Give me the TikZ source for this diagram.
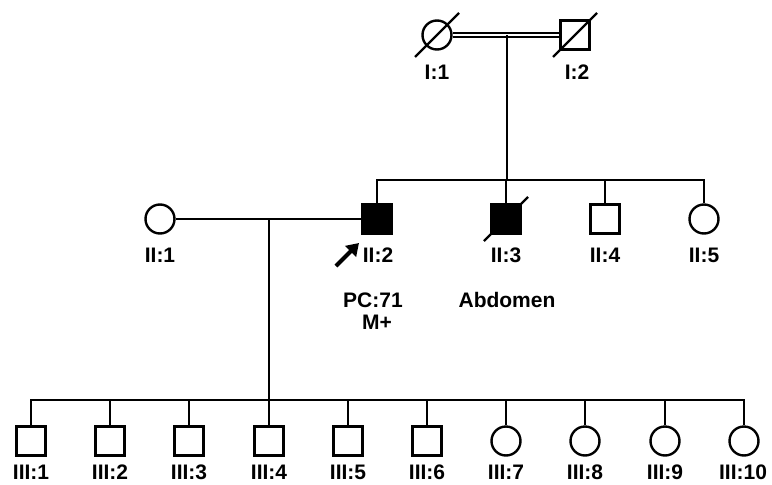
\documentclass[tikz,border=0pt]{standalone}
\usepackage{fontspec}
\setmainfont{Liberation Sans}
\usetikzlibrary{arrows.meta}

\begin{document}
\begin{tikzpicture}[%
		x=1pt,y=-1pt,
		line width=2.4pt,
		male/.style={draw,rectangle,minimum size=29pt,inner sep=0pt},%
		female/.style={draw,circle,minimum size=29pt,inner sep=0pt},%
		affected/.style={fill=black},%
		dead/.style={line width=2.4pt},%
		marriage/.style={double,line width=2pt,double distance=2pt},%
		lbl/.style={font=\fontsize{21}{25}\selectfont\bfseries,inner sep=0pt},%
		proband/.style={line width=4pt,-{Triangle[length=12pt,width=15pt]}}
		]
		\useasboundingbox (0,0) rectangle (772,485);

		% generation I
		\node[female] (i1) at (437,35) {};
		\node[male] (i2) at (575,35) {};
		\draw[dead] (i1.center) ++(-22,22) -- ++(44,-44);
		\draw[dead] (i2.center) ++(-22,22) -- ++(44,-44);
		\draw[marriage] (i1) -- (i2);
		\node[lbl] (i1l) at (437,72) {I:1};
		\node[lbl] (i2l) at (577,72) {I:2};
		\coordinate (m1) at (507,35);
		\coordinate (sib2) at (507,180);
		\draw (m1) -- (sib2);

		% generation II
		\node[female] (ii1) at (160,219) {};
		\node[male,affected] (ii2) at (377,219) {};
		\node[male,affected] (ii3) at (506,219) {};
		\node[male] (ii4) at (605,219) {};
		\node[female] (ii5) at (704,219) {};
		\draw[dead] (ii3.center) ++(-22,22) -- ++(44,-44);
		\draw (ii2.north) |- (sib2) -| (ii5.north);
		\foreach \n in {ii3,ii4}
			\draw (\n.north) -- (\n.north |- sib2);
		\draw (ii1) -- (ii2);
		\node[lbl] (ii1l) at (160,255) {II:1};
		\node[lbl] (ii2l) at (378,255) {II:2};
		\node[lbl] (ii3l) at (506,255) {II:3};
		\node[lbl] (ii4l) at (605,255) {II:4};
		\node[lbl] (ii5l) at (704,255) {II:5};
		% proband arrow
		\coordinate (pa) at (336,266);
		\coordinate (pb) at (359,243);
		\draw[proband] (pa) -- (pb);
		% notes
		\node[lbl] (pc) at (373,300) {PC:71};
		\node[lbl] (mplus) at (377,322) {M+};
		\node[lbl] (abd) at (507,300) {Abdomen};

		% generation III
		\coordinate (m2) at (269,219);
		\coordinate (sib3) at (269,400);
		\draw (m2) -- (sib3);
		\foreach \i/\x in {1/31,2/110,3/189,4/269,5/348,6/427}
			\node[male] (iii\i) at (\x,441) {};
		\foreach \i/\x in {7/506,8/585,9/665,10/744}
			\node[female] (iii\i) at (\x,441) {};
		\draw (iii1.north) |- (sib3) -| (iii10.north);
		\foreach \i in {2,...,9}
			\draw (iii\i.north) -- (iii\i.north |- sib3);
		\foreach \i/\x in {1/31,2/110,3/189,4/269,5/348,6/427,7/506,8/585,9/665,10/743}
			\node[lbl] (iii\i l) at (\x,472) {III:\i};
	\end{tikzpicture}
\end{document}
